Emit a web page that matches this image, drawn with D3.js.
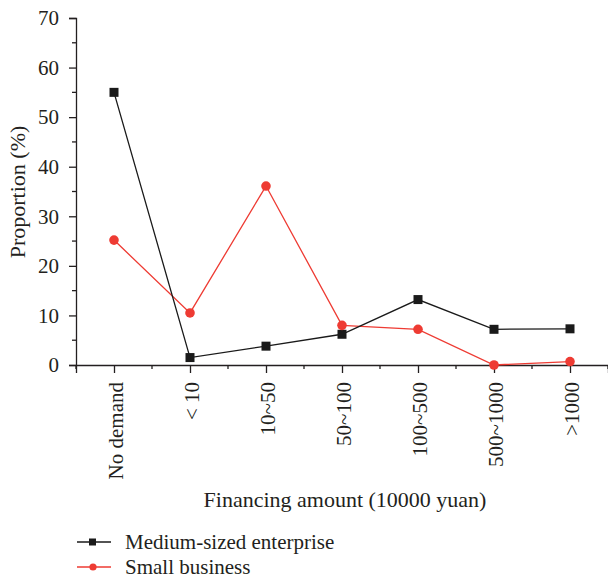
<!DOCTYPE html>
<html><head><meta charset="utf-8">
<script src="https://cdn.jsdelivr.net/npm/d3@7"></script>
<style>body{margin:0;background:#fff}svg{display:block}text{font-family:"Liberation Serif","DejaVu Serif",serif;fill:#231f20}</style>
</head><body><svg id="c" width="608" height="579"></svg>
<script>
const categories = ["No demand", "< 10", "10~50", "50~100", "100~500", "500~1000", ">1000"];
const mediumValues = [55.0, 1.5, 3.8, 6.2, 13.2, 7.2, 7.3];
const smallValues = [25.2, 10.5, 36.1, 8.0, 7.2, 0.0, 0.7];
const yTicks = [0, 10, 20, 30, 40, 50, 60, 70];
const seriesNames = ["Medium-sized enterprise", "Small business"];

(function(){
const svg = d3.select("#c");
const mLeft = 76, mRight = 608, mTop = 18, mBottom = 365;
const x = d3.scalePoint().domain(categories).range([mLeft, mRight]).padding(0.5);
const y = d3.scaleLinear().domain([0, 70]).range([mBottom, mTop]);
const axisColor = "#231f20";
const step = x.step();

// Y axis
const gy = svg.append("g").attr("transform", `translate(${mLeft},0)`)
  .call(d3.axisLeft(y).tickValues(yTicks).tickSize(7).tickPadding(10).tickFormat(d3.format("d")));
gy.selectAll("text").style("font-size", "21px");
gy.select(".domain").attr("stroke", axisColor).attr("stroke-width", 1.3);
gy.selectAll(".tick line").attr("stroke", axisColor).attr("stroke-width", 1.3);
const minorY = d3.range(5, 70, 10);
gy.selectAll(".minor").data(minorY).enter().append("line")
  .attr("x1", -4).attr("x2", 0).attr("y1", d => y(d)).attr("y2", d => y(d))
  .attr("stroke", axisColor).attr("stroke-width", 1.3);

// X axis
const gx = svg.append("g").attr("transform", `translate(0,${mBottom})`)
  .call(d3.axisBottom(x).tickSize(8).tickPadding(10));
gx.select(".domain").attr("stroke", axisColor).attr("stroke-width", 1.3);
gx.selectAll(".tick line").attr("stroke", axisColor).attr("stroke-width", 1.3);
gx.selectAll(".tick text").style("font-size", "21px")
  .attr("transform", "rotate(-90)").attr("text-anchor", "end")
  .attr("x", -17).attr("y", 1).attr("dy", "0.35em");
const minorX = categories.map(c => x(c) - step / 2).concat([x(categories[categories.length-1]) + step/2]);
gx.selectAll(".minorx").data(minorX).enter().append("line")
  .attr("x1", d => d).attr("x2", d => d).attr("y1", 0).attr("y2", 4)
  .attr("stroke", axisColor).attr("stroke-width", 1.3);

// Titles
svg.append("text").attr("transform", `translate(25,192) rotate(-90)`)
  .attr("text-anchor", "middle").style("font-size", "22px").text("Proportion (%)");
svg.append("text").attr("x", 345).attr("y", 507)
  .attr("text-anchor", "middle").style("font-size", "22px").text("Financing amount (10000 yuan)");

// Series
const black = "#1a1a1a", red = "#ee3b33";
const line = d3.line().x((d, i) => x(categories[i])).y(d => y(d));
svg.append("path").datum(smallValues).attr("d", line).attr("fill", "none").attr("stroke", red).attr("stroke-width", 1.3);
svg.append("path").datum(mediumValues).attr("d", line).attr("fill", "none").attr("stroke", black).attr("stroke-width", 1.3);
svg.selectAll(".sq").data(mediumValues).enter().append("rect")
  .attr("x", (d, i) => x(categories[i]) - 4.5).attr("y", d => y(d) - 4.5)
  .attr("width", 9).attr("height", 9).attr("fill", black);
svg.selectAll(".ci").data(smallValues).enter().append("circle")
  .attr("cx", (d, i) => x(categories[i])).attr("cy", d => y(d)).attr("r", 4.8).attr("fill", red);

// Legend
const lg = svg.append("g");
[[black, "sq"], [red, "ci"]].forEach(([col, kind], i) => {
  const yy = 542 + i * 25;
  lg.append("line").attr("x1", 77).attr("x2", 111).attr("y1", yy).attr("y2", yy).attr("stroke", col).attr("stroke-width", 1.3);
  if (kind === "sq") lg.append("rect").attr("x", 89).attr("y", yy - 3.5).attr("width", 7).attr("height", 7).attr("fill", col);
  else lg.append("circle").attr("cx", 93).attr("cy", yy).attr("r", 3.6).attr("fill", col);
  lg.append("text").attr("x", 125).attr("y", yy + 7).style("font-size", "21px").text(seriesNames[i]);
});
})();
</script></body></html>
